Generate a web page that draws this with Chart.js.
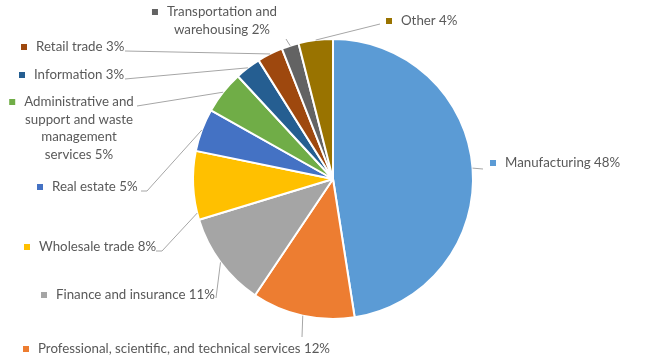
<!DOCTYPE html>
<html>
<head>
<meta charset="utf-8">
<script src="https://cdn.jsdelivr.net/npm/chart.js@4.4.1/dist/chart.umd.min.js"></script>
<style>
  html, body { margin: 0; padding: 0; background: #fff; }
  #wrap { width: 667px; height: 360px; position: relative; }
</style>
</head>
<body>
<div id="wrap"><canvas id="pieChart"></canvas></div>
<script>
// Dữ liệu: các ngành (nhãn nhiều dòng dùng mảng)
const categories = [
  'Manufacturing',
  'Professional, scientific, and technical services',
  'Finance and insurance',
  'Wholesale trade',
  'Real estate',
  ['Administrative and', 'support and waste', 'management', 'services'],
  'Information',
  'Retail trade',
  ['Transportation and', 'warehousing'],
  'Other'
];
const shares = [48, 12, 11, 8, 5, 5, 3, 3, 2, 4];
const colors = ['#5B9BD5', '#ED7D31', '#A5A5A5', '#FFC000', '#4472C4',
                '#70AD47', '#255E91', '#9E480E', '#636363', '#997300'];

// Vị trí nhãn: tx/ty = chữ, lx/ly = đầu đường dẫn, ex = điểm gấp, f = vị trí trên cung
const labelPos = [
  { tx: 505, ty: 163, lx: 483, ly: 169 },
  { tx: 38,  ty: 349, lx: 302, ly: 337 },
  { tx: 56,  ty: 295, lx: 216, ly: 298 },
  { tx: 39,  ty: 247, lx: 156, ly: 251, ex: 162, f: 0.1 },
  { tx: 52,  ty: 187, lx: 141, ly: 191, ex: 147 },
  { cx: 79,  ty: 102, lx: 137, ly: 106 },
  { tx: 34,  ty: 75,  lx: 125, ly: 79 },
  { tx: 36,  ty: 47,  lx: 125, ly: 51 },
  { cx: 222, ty: 12,  lx: 286, ly: 39 },
  { tx: 401, ty: 21,  lx: 380, ly: 24 }
];

const FONT = '13.3px Lato';
const LINE_H = 17.5;

// Plugin vẽ nhãn bên ngoài + đường dẫn
const outsideLabels = {
  id: 'outsideLabels',
  afterDatasetsDraw(chart) {
    const ctx = chart.ctx;
    const arcs = chart.getDatasetMeta(0).data;
    ctx.save();
    ctx.font = FONT;
    ctx.textBaseline = 'middle';
    arcs.forEach((arc, i) => {
      const p = labelPos[i];
      const f = p.f !== undefined ? p.f : 0.5;
      const a = arc.startAngle + (arc.endAngle - arc.startAngle) * f;
      const edgeX = arc.x + Math.cos(a) * arc.outerRadius;
      const edgeY = arc.y + Math.sin(a) * arc.outerRadius;

      // đường dẫn
      ctx.strokeStyle = '#A6A6A6';
      ctx.lineWidth = 1;
      ctx.beginPath();
      ctx.moveTo(p.lx, p.ly);
      if (p.ex !== undefined) ctx.lineTo(p.ex, p.ly);
      ctx.lineTo(edgeX, edgeY);
      ctx.stroke();

      // chữ
      const cat = categories[i];
      const lines = Array.isArray(cat) ? cat.slice() : [cat];
      lines[lines.length - 1] += ' ' + shares[i] + '%';
      ctx.fillStyle = '#595959';
      let firstLeft;
      lines.forEach((ln, k) => {
        const w = ctx.measureText(ln).width;
        const x = p.cx !== undefined ? p.cx - w / 2 : p.tx;
        if (k === 0) firstLeft = x;
        ctx.fillText(ln, x, p.ty + k * LINE_H);
      });

      // ô màu
      ctx.fillStyle = colors[i];
      ctx.fillRect(firstLeft - 15, p.ty - 3, 6, 6);
    });
    ctx.restore();
  }
};

const pieChart = new Chart(document.getElementById('pieChart'), {
  type: 'pie',
  data: {
    labels: categories,
    datasets: [{
      data: shares,
      backgroundColor: colors,
      borderColor: '#FFFFFF',
      borderWidth: 2,
    }]
  },
  options: {
    responsive: true,
    maintainAspectRatio: false,
    animation: false,
    layout: { padding: { top: 38, bottom: 40, left: 192, right: 193 } },
    plugins: {
      legend: { display: false },
      tooltip: { enabled: false },
    }
  },
  plugins: [outsideLabels]
});
</script>
</body>
</html>
